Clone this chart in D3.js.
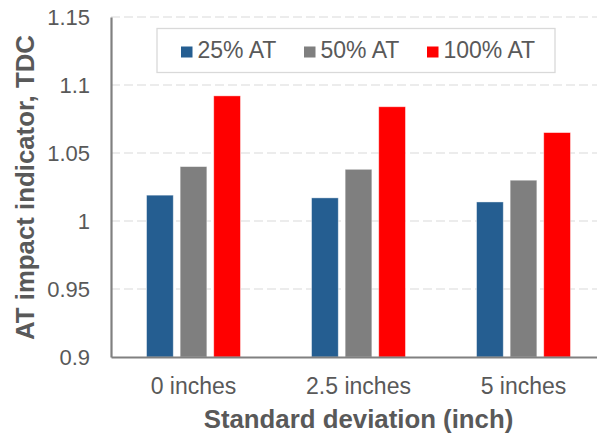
<!DOCTYPE html>
<html>
<head>
<meta charset="utf-8">
<script src="https://cdn.jsdelivr.net/npm/d3@7"></script>
<style>
  html, body { margin: 0; padding: 0; background: #fff; overflow: hidden; }
  svg { display: block; }
</style>
</head>
<body>
<svg id="chart" width="597" height="438"></svg>
<script>
// Categories, series and values
const categories = ["0 inches", "2.5 inches", "5 inches"];
const seriesNames = ["25% AT", "50% AT", "100% AT"];
const seriesColors = ["#255e91", "#7f7f7f", "#ff0000"];
const at25 = [1.019, 1.017, 1.014];
const at50 = [1.040, 1.038, 1.030];
const at100 = [1.092, 1.084, 1.065];
const yTicks = [0.9, 0.95, 1, 1.05, 1.1, 1.15];
const yTickLabels = ["0.9", "0.95", "1", "1.05", "1.1", "1.15"];

const seriesValues = [at25, at50, at100];
const rows = categories.map((c, i) => ({
  cat: c,
  vals: seriesNames.map((s, j) => ({ key: s, value: seriesValues[j][i], color: seriesColors[j] }))
}));

const svg = d3.select("#chart");
const font = "'Liberation Sans', Arial, sans-serif";
const textColor = "#595959";

const plot = { left: 111, right: 606, top: 17, bottom: 357 };

const y = d3.scaleLinear().domain([0.9, 1.15]).range([plot.bottom, plot.top]);
const x0 = d3.scaleBand().domain(categories).range([plot.left, plot.right])
  .paddingInner(0.431).paddingOuter(0.2155);
const x1 = d3.scaleBand().domain(seriesNames).range([0, x0.bandwidth()])
  .paddingInner(0.205).paddingOuter(0);

// Dashed gridlines
svg.append("g")
  .selectAll("line")
  .data(yTicks.filter(t => t > 0.9))
  .join("line")
  .attr("x1", plot.left).attr("x2", plot.right)
  .attr("y1", d => y(d)).attr("y2", d => y(d))
  .attr("stroke", "#d9d9d9").attr("stroke-width", 1.2)
  .attr("stroke-dasharray", "9,4");

// Bars
svg.append("g")
  .selectAll("g")
  .data(rows)
  .join("g")
  .attr("transform", d => `translate(${x0(d.cat)},0)`)
  .selectAll("rect")
  .data(d => d.vals)
  .join("rect")
  .attr("x", d => x1(d.key))
  .attr("width", x1.bandwidth())
  .attr("y", d => y(d.value))
  .attr("height", d => y(0.9) - y(d.value))
  .attr("fill", d => d.color)
  .attr("stroke", "#ffffff").attr("stroke-opacity", 0.5).attr("stroke-width", 0.8);

// Axes
const yAxis = d3.axisLeft(y).tickValues(yTicks)
  .tickFormat((d, i) => yTickLabels[i]).tickSize(0).tickPadding(21);
const gy = svg.append("g").attr("transform", `translate(${plot.left},0)`).call(yAxis);
gy.attr("font-size", null).attr("font-family", null);
gy.select(".domain").attr("stroke", "#808080").attr("stroke-width", 2.2);
gy.selectAll("text")
  .style("font-family", font).style("font-size", "22px")
  .attr("fill", textColor).attr("dy", "0.36em");

const xAxis = d3.axisBottom(x0).tickSize(0).tickPadding(18);
const gx = svg.append("g").attr("transform", `translate(0,${plot.bottom})`).call(xAxis);
gx.attr("font-size", null).attr("font-family", null);
gx.select(".domain").attr("stroke", "#808080").attr("stroke-width", 2.2);
gx.selectAll("text")
  .attr("dy", null).attr("y", 36.5)
  .style("font-family", font).style("font-size", "23px").attr("fill", textColor);

// Axis titles
svg.append("text")
  .attr("transform", `translate(34,187.5) rotate(-90)`)
  .attr("text-anchor", "middle")
  .style("font-family", font).style("font-weight", "bold").style("font-size", "25.8px")
  .attr("fill", textColor)
  .text("AT impact indicator, TDC");

svg.append("text")
  .attr("x", (plot.left + plot.right) / 2).attr("y", 428)
  .attr("text-anchor", "middle")
  .style("font-family", font).style("font-weight", "bold").style("font-size", "25.8px")
  .attr("fill", textColor)
  .text("Standard deviation (inch)");

// Legend
const legend = svg.append("g");
legend.append("rect")
  .attr("x", 157).attr("y", 28.5).attr("width", 398).attr("height", 44)
  .attr("fill", "#fff").attr("stroke", "#d9d9d9").attr("stroke-width", 1.3);
const legendX = [181, 304, 427];
const items = legend.selectAll("g.item").data(seriesNames).join("g")
  .attr("class", "item")
  .attr("transform", (d, i) => `translate(${legendX[i]},0)`);
items.append("rect")
  .attr("x", 0).attr("y", 46.5).attr("width", 11.5).attr("height", 11)
  .attr("fill", (d, i) => seriesColors[i]);
items.append("text")
  .attr("x", 16.5).attr("y", 58)
  .style("font-family", font).style("font-size", "23px").attr("fill", textColor)
  .text(d => d);
</script>
</body>
</html>
